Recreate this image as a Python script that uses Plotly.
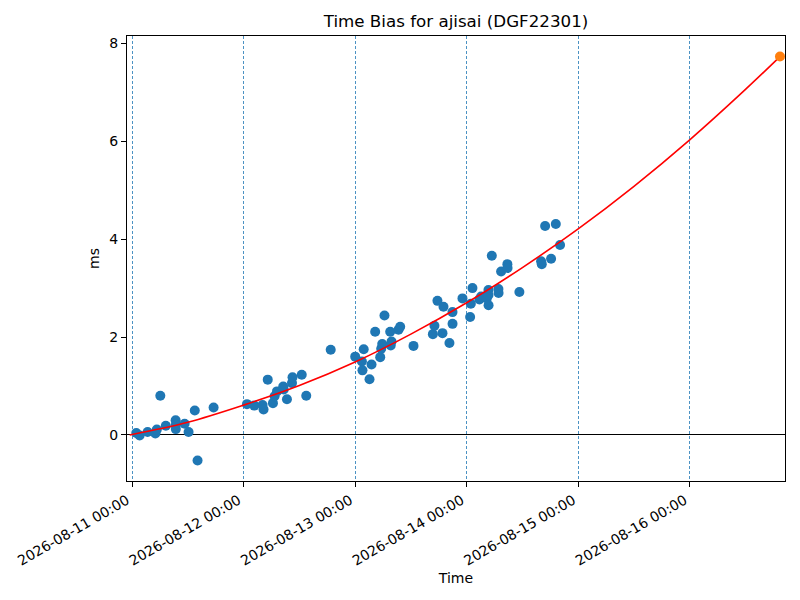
import plotly.graph_objects as go

# Measured time bias samples
obs_time = [
    "2026-08-11 00:55", "2026-08-11 01:38", "2026-08-11 03:21", "2026-08-11 05:01", "2026-08-11 05:20",
    "2026-08-11 06:05", "2026-08-11 07:16", "2026-08-11 09:23", "2026-08-11 09:25", "2026-08-11 09:26",
    "2026-08-11 11:19", "2026-08-11 12:10", "2026-08-11 13:30", "2026-08-11 14:06", "2026-08-11 17:33",
    "2026-08-12 00:44", "2026-08-12 02:18", "2026-08-12 04:05", "2026-08-12 04:18", "2026-08-12 05:12",
    "2026-08-12 06:19", "2026-08-12 06:40", "2026-08-12 07:11", "2026-08-12 08:32", "2026-08-12 08:38",
    "2026-08-12 09:20", "2026-08-12 10:25", "2026-08-12 10:32", "2026-08-12 12:31", "2026-08-12 13:29",
    "2026-08-12 18:45",
    "2026-08-13 00:01", "2026-08-13 01:51", "2026-08-13 01:28", "2026-08-13 01:35", "2026-08-13 03:06",
    "2026-08-13 03:32", "2026-08-13 04:19", "2026-08-13 05:24", "2026-08-13 05:37", "2026-08-13 05:50",
    "2026-08-13 06:19", "2026-08-13 07:33", "2026-08-13 07:40", "2026-08-13 07:50", "2026-08-13 09:20",
    "2026-08-13 09:42", "2026-08-13 12:34",
    "2026-08-13 16:44", "2026-08-13 17:04", "2026-08-13 17:43", "2026-08-13 18:48", "2026-08-13 19:01",
    "2026-08-13 20:18", "2026-08-13 20:57", "2026-08-13 20:58", "2026-08-13 23:06",
    "2026-08-14 00:45", "2026-08-14 00:54", "2026-08-14 01:15", "2026-08-14 02:45", "2026-08-14 03:07",
    "2026-08-14 04:20", "2026-08-14 04:41", "2026-08-14 04:42", "2026-08-14 04:43", "2026-08-14 05:25",
    "2026-08-14 06:50", "2026-08-14 06:52", "2026-08-14 07:25", "2026-08-14 08:46", "2026-08-14 08:48",
    "2026-08-14 11:21",
    "2026-08-14 16:01", "2026-08-14 16:10", "2026-08-14 16:53", "2026-08-14 18:10", "2026-08-14 19:11",
    "2026-08-14 20:06",
]
obs_ms = [
    0.04, -0.01, 0.06, 0.03, 0.11,
    0.80, 0.19, 0.30, 0.12, 0.21,
    0.23, 0.06, 0.50, -0.52, 0.56,
    0.63, 0.60, 0.61, 0.52, 1.13,
    0.65, 0.79, 0.89, 0.99, 0.93,
    0.73, 1.06, 1.18, 1.23, 0.80,
    1.74,
    1.60, 1.75, 1.50, 1.32, 1.14,
    1.44, 2.11, 1.59, 1.76, 1.86,
    2.44, 2.11, 1.83, 1.91, 2.15,
    2.21, 1.82,
    2.06, 2.23, 2.74, 2.08, 2.62,
    1.88, 2.51, 2.27, 2.79,
    2.41, 2.68, 3.00, 2.77, 2.83,
    2.79, 2.96, 2.86, 2.65, 3.66,
    2.98, 2.90, 3.34, 3.49, 3.41,
    2.92,
    3.55, 3.49, 4.27, 3.60, 4.31,
    3.88,
]

# Fitted trend curve
fit_time = [
    "2026-08-10 23:30", "2026-08-11 12:00", "2026-08-12 00:00", "2026-08-12 12:00",
    "2026-08-13 00:00", "2026-08-13 12:00", "2026-08-14 00:00", "2026-08-14 12:00",
    "2026-08-15 00:00", "2026-08-15 12:00", "2026-08-16 00:00", "2026-08-16 12:00",
    "2026-08-16 19:25",
]
fit_ms = [0.00, 0.26, 0.61, 1.01, 1.49, 2.06, 2.70, 3.42, 4.21, 5.08, 6.03, 7.06, 7.73]

# Predicted end point
pred_time = ["2026-08-16 19:25"]
pred_ms = [7.73]

tick_vals = ["2026-08-11", "2026-08-12", "2026-08-13", "2026-08-14", "2026-08-15", "2026-08-16"]
y_ticks = [0, 2, 4, 6, 8]

FONT = "DejaVu Sans"

fig = go.Figure()
fig.add_trace(go.Scatter(x=obs_time, y=obs_ms, mode="markers",
                         marker=dict(color="#1f77b4", size=10, line=dict(width=0)),
                         showlegend=False))
fig.add_trace(go.Scatter(x=fit_time, y=fit_ms, mode="lines",
                         line=dict(color="red", width=1.6, shape="spline"),
                         showlegend=False))
fig.add_trace(go.Scatter(x=pred_time, y=pred_ms, mode="markers",
                         marker=dict(color="#ff7f0e", size=10, line=dict(width=0)),
                         showlegend=False, cliponaxis=False))

# page body adds an 8px offset, so margins are shifted accordingly
fig.update_layout(
    width=800, height=600,
    margin=dict(l=119, r=23, t=28, b=127, autoexpand=False),
    paper_bgcolor="white", plot_bgcolor="white",
    font=dict(family=FONT, size=14, color="black"),
    title=dict(text="Time Bias for ajisai (DGF22301)", x=0.5, xref="paper",
               y=1 - 13 / 600, yref="container", yanchor="middle", xanchor="center",
               font=dict(family=FONT, size=16.7, color="black")),
    xaxis=dict(
        type="date",
        range=["2026-08-10 22:55", "2026-08-16 20:30"],
        tickmode="array", tickvals=tick_vals, tickformat="%Y-%m-%d %H:%M",
        tickangle=-30, ticks="outside", ticklen=5, tickcolor="black",
        tickfont=dict(family=FONT, size=14), ticklabelshift=-5,
        showgrid=True, gridcolor="rgba(31,119,180,0.8)", gridwidth=0.7, griddash="3px,2px",
        showline=True, linecolor="black", linewidth=1.1, mirror=True,
        zeroline=False,
        title=dict(text="Time", font=dict(family=FONT, size=14), standoff=5),
    ),
    yaxis=dict(
        range=[-0.94, 8.15],
        tickmode="array", tickvals=y_ticks,
        ticks="outside", ticklen=5, tickcolor="black",
        tickfont=dict(family=FONT, size=14),
        showgrid=False,
        zeroline=True, zerolinecolor="black", zerolinewidth=0.9,
        showline=True, linecolor="black", linewidth=1.1, mirror=True,
        title=dict(text="ms", font=dict(family=FONT, size=14), standoff=6),
    ),
)

fig.write_html("out.html")
